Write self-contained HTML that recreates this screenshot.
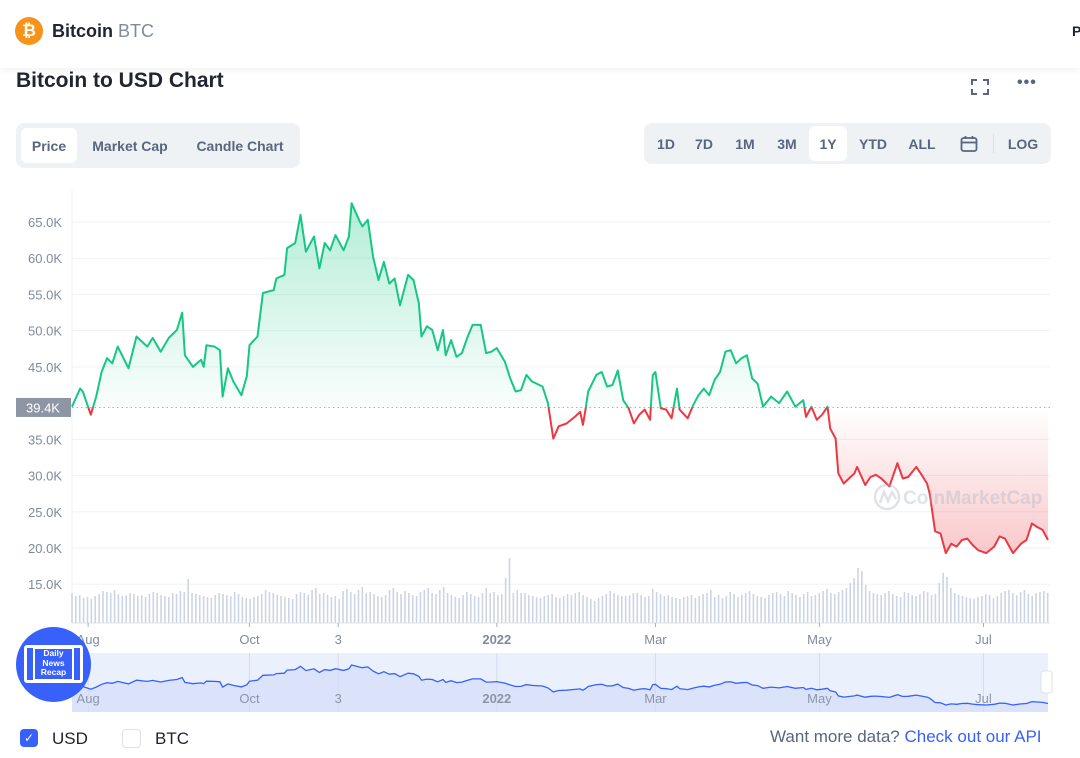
<!DOCTYPE html>
<html><head><meta charset="utf-8"><style>
*{box-sizing:border-box;margin:0;padding:0}
body{width:1080px;height:758px;overflow:hidden;background:#fff;font-family:"Liberation Sans",sans-serif;color:#222531;position:relative}
.abs{position:absolute}
.topbar{left:0;top:0;width:1080px;height:68px;background:#fff;box-shadow:0 2px 8px rgba(0,0,0,0.06);z-index:2}
.grp{background:#eff2f5;border-radius:8px}
.tab{position:absolute;font-size:14px;color:#58667e;font-weight:bold;top:0;height:100%;display:flex;align-items:center;justify-content:center}
.tab.on{background:#fff;border-radius:6px;color:#58667e}
</style></head><body>
<div class="abs topbar">
  <div class="abs" style="left:15px;top:17px;width:28px;height:28px;border-radius:50%;background:#f7931a;color:#fff;font-weight:bold;font-size:17px;text-align:center;line-height:28px">₿</div>
  <div class="abs" style="left:52px;top:21px;font-size:18px;font-weight:bold">Bitcoin <span style="font-weight:normal;color:#808a9d">BTC</span></div>
  <div class="abs" style="left:1072px;top:23px;font-size:14px;font-weight:bold">P</div>
</div>
<div class="abs" style="left:16px;top:69px;font-size:21px;font-weight:bold">Bitcoin to USD Chart</div>
<div class="abs" style="left:971px;top:79px;width:18px;height:16px;border:2px dashed #58667e;border-width:2px"></div>
<div class="abs" style="left:1017px;top:74px;font-size:16px;font-weight:bold;color:#58667e;letter-spacing:1px">•••</div>

<div class="abs grp" style="left:16px;top:123px;width:284px;height:45px">
  <div class="tab on" style="left:5px;top:5px;height:35px;width:56px">Price</div>
  <div class="tab" style="left:66px;width:96px">Market Cap</div>
  <div class="tab" style="left:168px;width:112px">Candle Chart</div>
</div>
<div class="abs grp" style="left:644px;top:123px;width:407px;height:41px">
  <div class="tab" style="left:6px;width:32px">1D</div>
  <div class="tab" style="left:44px;width:32px">7D</div>
  <div class="tab" style="left:85px;width:32px">1M</div>
  <div class="tab" style="left:127px;width:32px">3M</div>
  <div class="tab on" style="left:165px;top:3px;height:35px;width:38px">1Y</div>
  <div class="tab" style="left:210px;width:38px">YTD</div>
  <div class="tab" style="left:260px;width:36px">ALL</div>
  <div class="tab" style="left:314px;width:22px"><svg width="18" height="18" viewBox="0 0 18 18"><rect x="1.5" y="3" width="15" height="13" rx="2" fill="none" stroke="#58667e" stroke-width="1.8"/><line x1="1.5" y1="7.5" x2="16.5" y2="7.5" stroke="#58667e" stroke-width="1.8"/><line x1="5.5" y1="1" x2="5.5" y2="4" stroke="#58667e" stroke-width="1.8"/><line x1="12.5" y1="1" x2="12.5" y2="4" stroke="#58667e" stroke-width="1.8"/></svg></div>
  <div class="abs" style="left:349px;top:11px;width:1px;height:19px;background:#dde1e7"></div>
  <div class="tab" style="left:360px;width:38px">LOG</div>
</div>

<svg class="abs" id="chart" style="left:0;top:0" width="1080" height="758"></svg>

<div class="abs" style="left:16px;top:627px;width:75px;height:75px;border-radius:50%;background:#3861fb;z-index:3">
  <div class="abs" style="left:8px;top:18px;width:59px;height:38px;border:3px solid #fff;border-radius:3px;background:#3861fb"></div>
  <div class="abs" style="left:17px;top:20px;width:41px;height:34px;background:#fff"></div>
  <div class="abs" style="left:19px;top:22px;width:37px;height:30px;background:#3861fb;color:#fff;font-size:8.5px;font-weight:bold;line-height:9.5px;text-align:center">Daily<br>News<br>Recap</div>
</div>

<div class="abs" style="left:20px;top:729px;width:18px;height:18px;border-radius:4px;background:#3861fb;color:#fff;font-size:12px;text-align:center;line-height:18px">✓</div>
<div class="abs" style="left:52px;top:729px;font-size:17px">USD</div>
<div class="abs" style="left:122px;top:729px;width:19px;height:19px;border-radius:4px;border:1px solid #dde1e7;background:#fff"></div>
<div class="abs" style="left:155px;top:729px;font-size:17px">BTC</div>
<div class="abs" style="left:770px;top:727px;font-size:17px;color:#58667e">Want more data? <span style="color:#3861fb">Check out our API</span></div>

<script>
const days=[7,10,11,14,16,18,20,22,24,28,31,35,37,40,43,46,48,49,52,55,56,57,60,62,63,65,67,70,72,73,76,78,82,83,86,87,90,92,94,97,99,101,103,105,108,110,111,114,115,117,119,121,123,125,127,129,132,134,136,137,139,141,143,145,146,148,150,152,154,156,159,161,163,165,168,170,172,174,176,178,182,184,186,188,191,194,196,197,198,199,202,204,206,208,210,212,214,216,218,220,222,223,224,226,228,230,232,233,236,238,240,242,244,246,248,250,252,254,256,258,260,262,264,267,270,273,276,279,280,282,284,286,288,289,291,292,294,298,299,302,304,306,308,311,314,316,318,321,323,325,326,328,330,332,334,336,338,340,342,344,347,350,352,354,357,360,362,364,366,368,370];
const prices=[39.5,42.0,41.6,38.4,40.9,44.3,46.2,45.5,47.8,44.8,49.2,47.8,49.0,47.1,49.0,50.1,52.5,46.6,45.0,46.0,45.0,48.0,47.8,47.3,40.9,44.8,43.0,41.1,43.7,48.0,49.2,55.2,55.6,57.2,57.7,61.4,62.1,66.0,60.9,63.0,58.6,62.1,61.1,63.2,61.1,63.0,67.6,65.1,64.4,65.3,60.2,57.0,59.5,56.5,57.2,53.5,57.7,57.0,53.8,49.2,50.6,50.1,47.3,50.1,46.6,48.7,46.4,46.9,49.0,50.8,50.8,46.9,47.1,47.6,45.7,43.4,41.6,41.8,43.9,43.0,42.3,40.0,35.1,36.8,37.2,38.1,38.8,37.0,39.1,41.6,43.9,44.3,42.3,42.5,44.5,40.4,39.3,37.2,38.4,39.1,37.7,43.9,44.3,39.3,39.1,37.9,42.0,39.1,37.9,39.7,41.1,42.0,41.1,43.2,44.3,47.1,47.3,45.5,46.2,46.6,43.4,42.7,39.5,40.9,40.0,41.6,39.5,40.4,38.1,39.5,37.7,38.4,39.5,36.5,35.1,30.3,28.9,30.3,31.2,28.7,29.8,30.1,29.6,28.5,31.7,29.6,29.8,31.2,30.1,28.9,27.5,22.3,22.0,19.3,20.6,20.2,21.1,21.3,20.4,19.7,19.3,20.2,21.6,21.3,19.3,20.6,21.1,23.4,22.9,22.5,21.1];
const volumeStartDay=7;
const volumeStepDays=1.44;
const volumes=[30,27,28,25,26,24,27,29,32,31,30,33,29,27,28,30,29,27,28,26,29,31,30,28,27,26,30,29,32,31,
44,30,29,28,27,26,25,28,30,29,28,27,31,29,26,25,24,26,27,29,33,31,30,28,27,26,25,24,29,31,
30,28,33,35,29,30,28,26,27,24,32,34,31,29,33,36,30,31,29,27,26,28,33,35,31,29,32,30,28,27,
31,33,35,30,29,33,36,30,28,26,25,28,31,29,27,26,30,35,30,31,28,29,45,65,30,33,30,30,28,27,
26,25,27,28,29,26,25,27,29,28,30,31,28,26,24,22,25,27,29,32,30,28,27,27,28,30,30,28,26,27,
34,31,29,27,28,26,25,24,26,27,28,25,27,29,30,33,26,28,25,27,31,29,26,28,30,32,29,27,26,25,
28,30,31,29,27,32,30,28,26,29,31,27,28,30,32,34,30,29,31,33,35,40,45,55,52,38,32,30,29,28,
30,32,29,27,26,31,30,28,27,29,32,31,28,29,40,50,46,35,30,28,27,26,25,24,26,27,29,28,25,27,
30,32,33,30,28,31,33,29,27,30,31,32,30];
const yTicks=[15,20,25,30,35,45,50,55,60,65];
const xTickDays=[13,73,106,165,224,285,346];
const xTickLabels=["Aug","Oct","3","2022","Mar","May","Jul"];
const basePrice=39.4;

const NS="http://www.w3.org/2000/svg";
const svg=document.getElementById('chart');
const X0=72,X1=1048,D0=7,D1=370;
const xs=d=>X0+(d-D0)*(X1-X0)/(D1-D0);
const ys=p=>548-(p-20)*7.244;
const yn=p=>705-(p-19.3)*0.828;
function el(t,a,parent){const e=document.createElementNS(NS,t);for(const k in a)e.setAttribute(k,a[k]);(parent||svg).appendChild(e);return e;}
const yb=ys(basePrice);

const defs=el('defs',{});
defs.innerHTML='<linearGradient id="gg" gradientUnits="userSpaceOnUse" x1="0" y1="205" x2="0" y2="'+yb+'"><stop offset="0" stop-color="#16c784" stop-opacity="0.32"/><stop offset="1" stop-color="#16c784" stop-opacity="0.02"/></linearGradient>'+
'<linearGradient id="rg" gradientUnits="userSpaceOnUse" x1="0" y1="'+yb+'" x2="0" y2="555"><stop offset="0" stop-color="#ea3943" stop-opacity="0.0"/><stop offset="1" stop-color="#ea3943" stop-opacity="0.28"/></linearGradient>'+
'<clipPath id="above"><rect x="0" y="0" width="1080" height="'+yb+'"/></clipPath>'+
'<clipPath id="below"><rect x="0" y="'+yb+'" width="1080" height="400"/></clipPath>';

yTicks.forEach(v=>{
  const g=el('line',{x1:72,x2:1050,y1:ys(v),y2:ys(v),stroke:'#eff2f5','stroke-width':1});
  
  
  const t=el('text',{x:62,y:ys(v)+5,'text-anchor':'end','font-size':13,fill:'#808a9d'});
  t.textContent=v.toFixed(1)+'K';
  
  
});
el('line',{x1:72,x2:72,y1:190,y2:623,stroke:'#eff2f5'});

volumes.forEach((h,i)=>{
  const d=volumeStartDay+i*volumeStepDays;
  if(d>D1+0.5) return;
  const b=el('rect',{x:xs(d)-0.8,y:623-h,width:1.6,height:h,fill:'#cdd4e3'});
  
  
});
el('line',{x1:72,x2:1050,y1:623,y2:623,stroke:'#dde1e7'});

const pts=days.map((d,i)=>[xs(d),ys(prices[i])]);
const lineD='M'+pts.map(p=>p[0].toFixed(1)+','+p[1].toFixed(1)).join('L');
const areaD=lineD+'L'+pts[pts.length-1][0].toFixed(1)+','+yb+'L'+pts[0][0].toFixed(1)+','+yb+'Z';
const ga=el('path',{d:areaD,fill:'url(#gg)','clip-path':'url(#above)'});


const ra=el('path',{d:areaD,fill:'url(#rg)','clip-path':'url(#below)'});


el('line',{x1:72,x2:1050,y1:yb,y2:yb,stroke:'#a6b0c3','stroke-dasharray':'1.5 3','stroke-width':1});
const gl=el('path',{d:lineD,fill:'none',stroke:'#16c784','stroke-width':2,'stroke-linejoin':'round','clip-path':'url(#above)'});


const rl=el('path',{d:lineD,fill:'none',stroke:'#ea3943','stroke-width':2,'stroke-linejoin':'round','clip-path':'url(#below)'});



const bl=el('rect',{x:16,y:yb-9.5,width:55,height:19,fill:'#8e96a6'});


const bt=el('text',{x:43,y:yb+5,'text-anchor':'middle','font-size':13,fill:'#fff'});
bt.textContent=basePrice.toFixed(1)+'K';

const wm=el('g',{opacity:0.35});


el('circle',{cx:887,cy:497,r:12,fill:'none',stroke:'#a6b0c3','stroke-width':2.5},wm);
el('path',{d:'M880,503 L884,492 L888,501 L892,492 L896,499',fill:'none',stroke:'#a6b0c3','stroke-width':2.5},wm);
const wt=el('text',{x:903,y:504,'font-size':19,fill:'#a6b0c3','font-weight':'bold'},wm);
wt.textContent='CoinMarketCap';

xTickDays.forEach((d,i)=>{
  el('line',{x1:xs(d),x2:xs(d),y1:623,y2:627,stroke:'#a6b0c3'});
  const t=el('text',{x:xs(d),y:644,'text-anchor':'middle','font-size':13,fill:'#808a9d','font-weight':xTickLabels[i]==='2022'?'bold':'normal'});
  t.textContent=xTickLabels[i];
  
  
});

const nb=el('rect',{x:72,y:653,width:976,height:59,fill:'#ebf0fd'});


const npts=days.map((d,i)=>[xs(d),yn(prices[i])]);
const nLine='M'+npts.map(p=>p[0].toFixed(1)+','+p[1].toFixed(1)).join('L');
el('path',{d:nLine+'L'+X1+',712L'+X0+',712Z',fill:'#dbe3fb'});
xTickDays.forEach((d,i)=>{
  el('line',{x1:xs(d),x2:xs(d),y1:653,y2:712,stroke:'#d5dcf0'});
  const t=el('text',{x:xs(d),y:703,'text-anchor':'middle','font-size':13,fill:'#8c95a8','font-weight':xTickLabels[i]==='2022'?'bold':'normal'});
  t.textContent=xTickLabels[i];
  
  
});
const nl=el('path',{d:nLine,fill:'none',stroke:'#3861fb','stroke-width':1.3});


const hd=el('rect',{x:1041,y:671,width:11,height:22,rx:3,fill:'#fff',stroke:'#dde1e7'});


</script>
</body></html>
